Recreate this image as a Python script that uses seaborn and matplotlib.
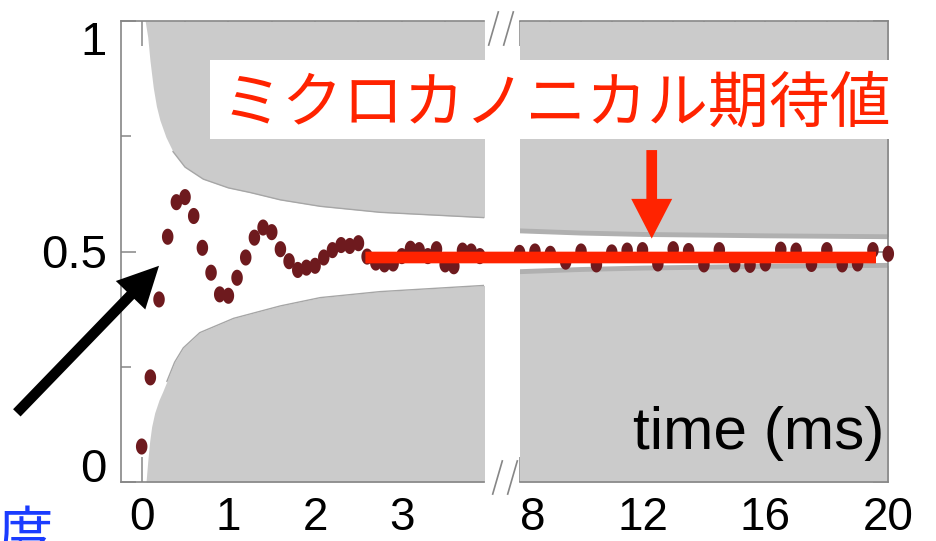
import numpy as np
import matplotlib
matplotlib.use("Agg")
import matplotlib.pyplot as plt
import seaborn as sns
from matplotlib.path import Path
from matplotlib.markers import MarkerStyle
from matplotlib.patches import ConnectionPatch, Rectangle

# ---- measured population (left panel: 0 - 4 ms, right panel: 8 - 20 ms) ----
t_early = [0.0, 0.1, 0.2, 0.3, 0.4, 0.5, 0.6, 0.7, 0.8, 0.9, 1.0, 1.1, 1.2, 1.3,
           1.4, 1.5, 1.6, 1.7, 1.8, 1.9, 2.0, 2.1, 2.2, 2.3, 2.4, 2.5, 2.6]
p_early = [0.077, 0.227, 0.396, 0.532, 0.607, 0.618, 0.577, 0.508, 0.454, 0.407,
           0.404, 0.443, 0.487, 0.530, 0.552, 0.542, 0.505, 0.479, 0.460, 0.465,
           0.469, 0.487, 0.503, 0.514, 0.512, 0.518, 0.489]
t_mid = [2.7, 2.8, 2.9, 3.0, 3.1, 3.2, 3.3, 3.4, 3.5, 3.6, 3.7, 3.8, 3.9]
p_mid = [0.476, 0.472, 0.474, 0.490, 0.506, 0.503, 0.490, 0.505, 0.472, 0.468,
         0.502, 0.500, 0.490]
t_late = [8.0, 8.5, 9.0, 9.5, 10.0, 10.5, 11.0, 11.5, 12.0, 12.5, 13.0, 13.5, 14.0,
          14.5, 15.0, 15.5, 16.0, 16.5, 17.0, 17.5, 18.0, 18.5, 19.0, 19.5, 20.0]
p_late = [0.497, 0.500, 0.495, 0.478, 0.500, 0.472, 0.498, 0.502, 0.503, 0.474,
          0.505, 0.501, 0.472, 0.503, 0.472, 0.471, 0.474, 0.504, 0.502, 0.473,
          0.503, 0.472, 0.474, 0.503, 0.495]

# microcanonical expectation value and the span it is drawn over
microcanonical = 0.487
mc_t_start, mc_t_end = 2.58, 19.6

# ---- envelope of the excluded (gray) region ----
env_t_hi_left = [-0.3, 0.04, 0.07, 0.095, 0.134, 0.17, 0.21, 0.28, 0.36, 0.5, 0.71,
                 1.0, 1.25, 1.6, 2.06, 2.75, 4.0]
env_hi_left = [1.0, 1.0, 0.965, 0.915, 0.855, 0.815, 0.785, 0.748, 0.717, 0.683,
               0.657, 0.638, 0.628, 0.612, 0.598, 0.585, 0.573]
env_t_lo_left = [-0.3, 0.05, 0.07, 0.09, 0.115, 0.15, 0.2, 0.24, 0.29, 0.38, 0.48,
                 0.67, 1.06, 1.6, 2.06, 2.75, 4.0]
env_lo_left = [0.0, 0.0, 0.045, 0.085, 0.12, 0.15, 0.178, 0.195, 0.218, 0.26, 0.291,
               0.324, 0.355, 0.382, 0.40, 0.413, 0.427]
env_t_right = [7.9, 10.0, 12.0, 16.0, 20.1]
env_hi_right = [0.545, 0.540, 0.537, 0.534, 0.532]
env_lo_right = [0.456, 0.461, 0.464, 0.468, 0.470]

# ---- axis ticks / labels ----
x_major_left = [0, 1, 2, 3]
x_minor_left = [0.5, 1.5, 2.5, 3.5]
x_major_right = [8, 12, 16, 20]
x_minor_right = [9, 10, 11, 13, 14, 15, 17, 18, 19]
y_major = [0, 0.5, 1]
y_major_labels = ["0", "0.5", "1"]
y_minor = [0.25, 0.75]

label_mc = "ミクロカノニカル期待値"
label_time = "time (ms)"
label_corner = "度"

RED = "#ff2300"
DOT = "#6e1a1e"
GRAY = "#cbcbcb"
EDGE = "#a6a6a6"
FRAME = "#868686"

sns.set_theme(style="white")
plt.rcParams["font.family"] = ["Liberation Sans", "Noto Sans CJK JP", "DejaVu Sans"]

W, H = 937, 541
fig = plt.figure(figsize=(W / 100, H / 100), dpi=100)
fig.patch.set_facecolor("white")


def fx(px):
    return px / W


def fy(py):
    return 1 - py / H


ax1 = fig.add_axes([fx(120.7), fy(482), fx(484 - 120.7), (482 - 21) / H])
ax2 = fig.add_axes([fx(519.6), fy(482), fx(888.3 - 519.6), (482 - 21) / H])

# elliptical dot marker
theta = np.linspace(0, 2 * np.pi, 41)
ellipse = MarkerStyle(Path(np.column_stack([np.cos(theta), 1.4 * np.sin(theta)])))

for ax in (ax1, ax2):
    ax.set_facecolor("white")
    ax.set_ylim(0, 1)
    for sp in ax.spines.values():
        sp.set_color(FRAME)
        sp.set_linewidth(1.2)

# gray excluded regions
ax1.fill_between(env_t_hi_left, env_hi_left, 1.0, color=GRAY, lw=0)
ax1.fill_between(env_t_lo_left, 0.0, env_lo_left, color=GRAY, lw=0)
ax1.plot(env_t_hi_left[8:], env_hi_left[8:], color=EDGE, lw=1.0)
ax1.plot(env_t_lo_left[8:], env_lo_left[8:], color=EDGE, lw=1.0)
ax2.fill_between(env_t_right, env_hi_right, 1.0, color=GRAY, lw=0)
ax2.fill_between(env_t_right, 0.0, env_lo_right, color=GRAY, lw=0)
sns.lineplot(x=env_t_right, y=env_hi_right, ax=ax2, color="#b0b0b0", lw=3.5)
sns.lineplot(x=env_t_right, y=env_lo_right, ax=ax2, color="#b0b0b0", lw=3.5)

# data points
sns.scatterplot(x=t_early + t_mid, y=p_early + p_mid, ax=ax1, color=DOT, s=135,
                marker=ellipse, edgecolor="none", linewidth=0, clip_on=False, zorder=4)
sns.scatterplot(x=t_late, y=p_late, ax=ax2, color=DOT, s=135, marker=ellipse,
                edgecolor="none", linewidth=0, clip_on=False, zorder=4)

# axes limits and ticks
ax1.set_xlim(-0.242, 3.948)
ax2.set_xlim(8, 20)
ax1.set_xticks(x_major_left, [str(v) for v in x_major_left])
ax1.set_xticks(x_minor_left, minor=True)
ax2.set_xticks(x_major_right, [str(v) for v in x_major_right])
ax2.set_xticks(x_minor_right, minor=True)
for ax in (ax1, ax2):
    ax.set_yticks(y_major, y_major_labels)
    ax.set_yticks(y_minor, minor=True)
    ax.set_xlabel("")
    ax.set_ylabel("")
    ax.tick_params(axis="x", which="major", direction="in", length=18, width=1.1,
                   color=FRAME, top=True, bottom=True, labelsize=33, pad=10,
                   labelcolor="black")
    ax.tick_params(axis="x", which="minor", direction="in", length=9.4, width=1.1,
                   color=FRAME, top=True, bottom=True)
    ax.tick_params(axis="y", which="major", direction="in", length=10.8, width=1.1,
                   color=FRAME, labelsize=34, pad=10, labelcolor="black")
    ax.tick_params(axis="y", which="minor", direction="in", length=7.2, width=1.1,
                   color=FRAME)

ax1.spines["right"].set_visible(False)
ax2.spines["left"].set_visible(False)
ax1.tick_params(axis="y", which="both", left=True, right=False)
ax2.tick_params(axis="y", which="both", left=False, right=True, labelleft=False,
                labelright=False)
ylabs = ax1.get_yticklabels()
ylabs[0].set_va("baseline")
ylabs[2].set_va("top")
ax2.get_xticklabels()[0].set_ha("left")

# break marks between the two panels
slash = [(-0.29, -1), (0.29, 1)]
for ax_x, ax_y in [(1.0248, 0.985), (1.066, 0.985), (1.037, 0.011), (1.077, 0.011)]:
    ax1.plot([ax_x], [ax_y], transform=ax1.transAxes, marker=slash, markersize=25,
             color=FRAME, mew=1.2, linestyle="none", clip_on=False)

# microcanonical expectation line across both panels
mc_line = ConnectionPatch(xyA=(mc_t_start, microcanonical), coordsA=ax1.transData,
                          xyB=(mc_t_end, microcanonical), coordsB=ax2.transData,
                          color=RED, lw=8.4, capstyle="butt", zorder=5)
fig.add_artist(mc_line)

# label with its white backing
fig.add_artist(Rectangle((fx(210), fy(139.3)), fx(690), 78.8 / H,
                         transform=fig.transFigure, facecolor="white",
                         edgecolor="none", zorder=4))
fig.text(fx(222), fy(122), label_mc, color=RED, fontsize=43.8,
         family=["Noto Sans CJK JP", "DejaVu Sans"], ha="left", va="baseline",
         zorder=6)

# arrow pointing at the expectation value
ax2.annotate("", xy=(12.3, 0.528), xytext=(12.3, 0.72),
             arrowprops=dict(arrowstyle="simple,head_length=28.6,head_width=29.5,tail_width=7.7",
                             mutation_scale=1, fc=RED, ec="none", shrinkA=0, shrinkB=0),
             annotation_clip=False)

# arrow pointing at the early oscillation
ax1.annotate("", xy=(0.2, 0.469), xytext=(-1.44, 0.15),
             arrowprops=dict(arrowstyle="simple,head_length=29.5,head_width=29.5,tail_width=7.5",
                             mutation_scale=1, fc="black", ec="none", shrinkA=0, shrinkB=0),
             annotation_clip=False)

ax2.text(0.988, 0.0716, label_time, transform=ax2.transAxes, ha="right",
         va="baseline", fontsize=43.5, color="black")

fig.text(fx(25), fy(552), label_corner, color="#1a3cff", fontsize=40,
         family=["Noto Sans CJK JP", "DejaVu Sans"], ha="center", va="baseline")

fig.savefig("out.png", dpi=100)
